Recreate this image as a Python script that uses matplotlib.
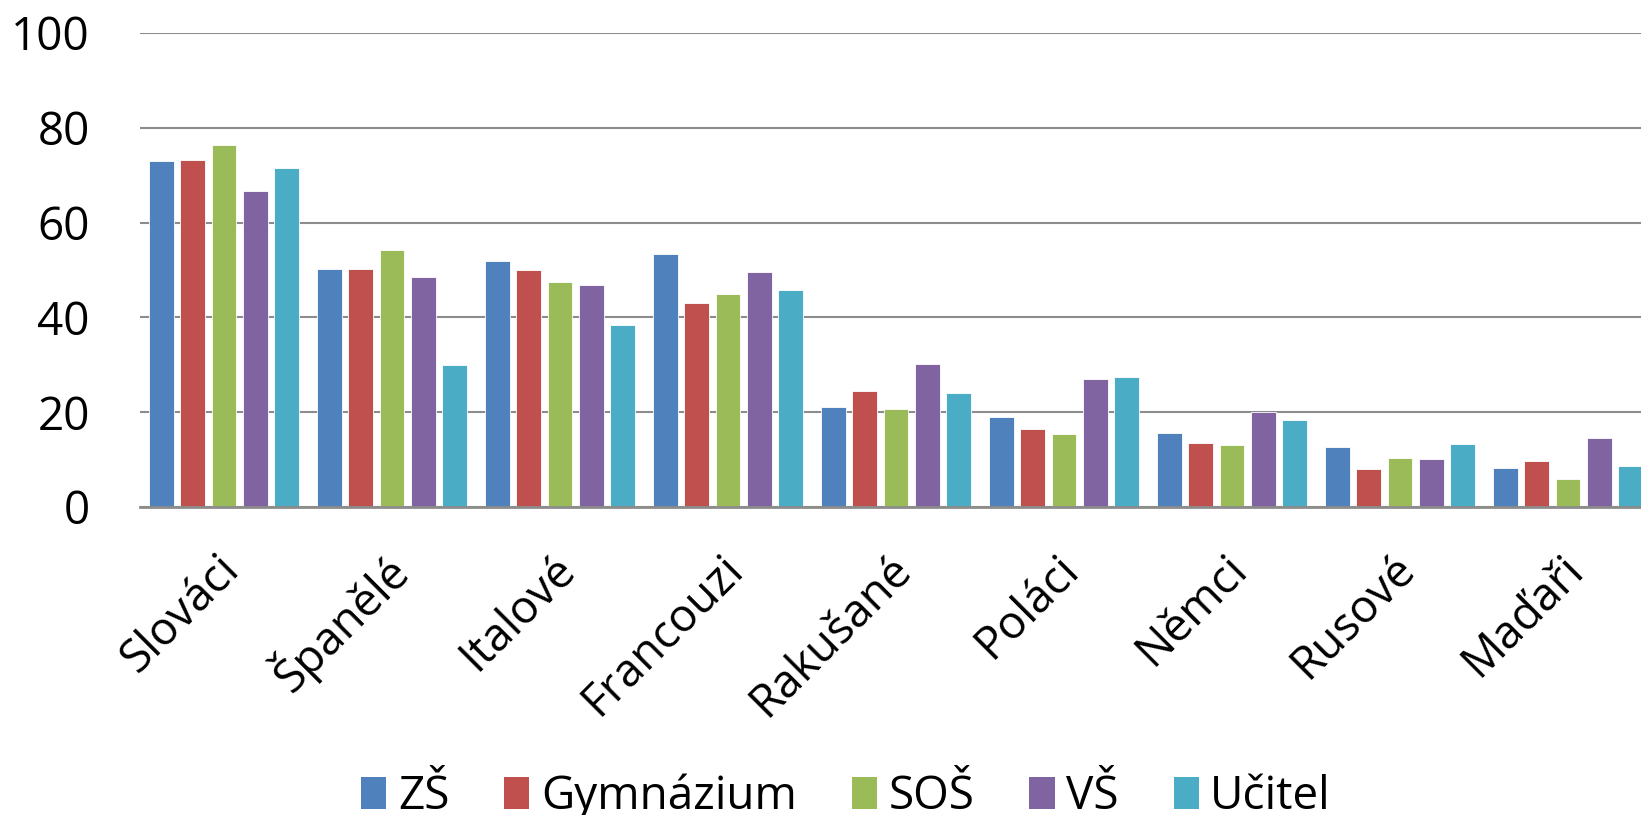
import matplotlib
matplotlib.use("Agg")
import matplotlib.pyplot as plt
import numpy as np
from matplotlib.patches import Patch

categories = ["Slováci", "Španělé", "Italové", "Francouzi", "Rakušané",
              "Poláci", "Němci", "Rusové", "Maďaři"]
series_names = ["ZŠ", "Gymnázium", "SOŠ", "VŠ", "Učitel"]
zs = [73.1, 50.3, 51.9, 53.3, 21.0, 19.0, 15.7, 12.7, 8.2]
gymnazium = [73.3, 50.2, 49.9, 43.1, 24.5, 16.4, 13.5, 8.0, 9.8]
sos = [76.4, 54.2, 47.5, 44.9, 20.6, 15.5, 13.0, 10.3, 5.9]
vs = [66.7, 48.5, 46.9, 49.5, 30.1, 27.0, 20.1, 10.2, 14.6]
ucitel = [71.5, 29.9, 38.5, 45.7, 24.1, 27.4, 18.3, 13.2, 8.7]
yticks = [0, 20, 40, 60, 80, 100]

colors = ["#4F81BD", "#C0504D", "#9BBB59", "#8064A2", "#4BACC6"]
series = [zs, gymnazium, sos, vs, ucitel]

FONT = ["Liberation Sans Narrow", "Open Sans", "DejaVu Sans"]
plt.rcParams["font.family"] = FONT

W, H = 1641, 815
fig = plt.figure(figsize=(W / 100, H / 100), dpi=100)
ax = fig.add_axes([140 / W, 1 - 507 / H, 1 - 140 / W, (507 - 33) / H])

x = np.arange(len(categories))
step = 0.1857
bw = 0.148
for i, (vals, c) in enumerate(zip(series, colors)):
    ax.bar(x + (i - 2) * step, vals, width=bw, color=c, edgecolor="white",
           linewidth=0.6, zorder=3, label=series_names[i])

ax.set_xlim(-0.5, -0.5 + (W - 140) / 168)
ax.set_ylim(0, 100)
ax.set_yticks(yticks)
ax.set_yticklabels([str(t) for t in yticks], fontsize=33)
ax.yaxis.grid(True, color="#8C8C8C", linewidth=1.5, zorder=0)
ax.tick_params(axis="y", length=0, pad=36)
ax.tick_params(axis="x", length=0)
for s in ["left", "right", "top"]:
    ax.spines[s].set_visible(False)
ax.spines["bottom"].set_color("#8C8C8C")
ax.spines["bottom"].set_linewidth(2)
ax.spines["bottom"].set_zorder(4)

ax.set_xticks(x + 0.05)
ax.set_xticklabels(categories, rotation=45, ha="right", va="center",
                   rotation_mode="anchor", fontsize=33)
ax.tick_params(axis="x", pad=40)

handles = [Patch(facecolor=c, edgecolor="none") for c in colors]
fig.legend(handles, series_names, loc="center", ncol=5, frameon=False,
           bbox_to_anchor=(846 / W, 1 - 797 / H), fontsize=33,
           handlelength=0.55, handleheight=0.7, handletextpad=0.25,
           columnspacing=1.2)

fig.savefig("out.png", dpi=100)
